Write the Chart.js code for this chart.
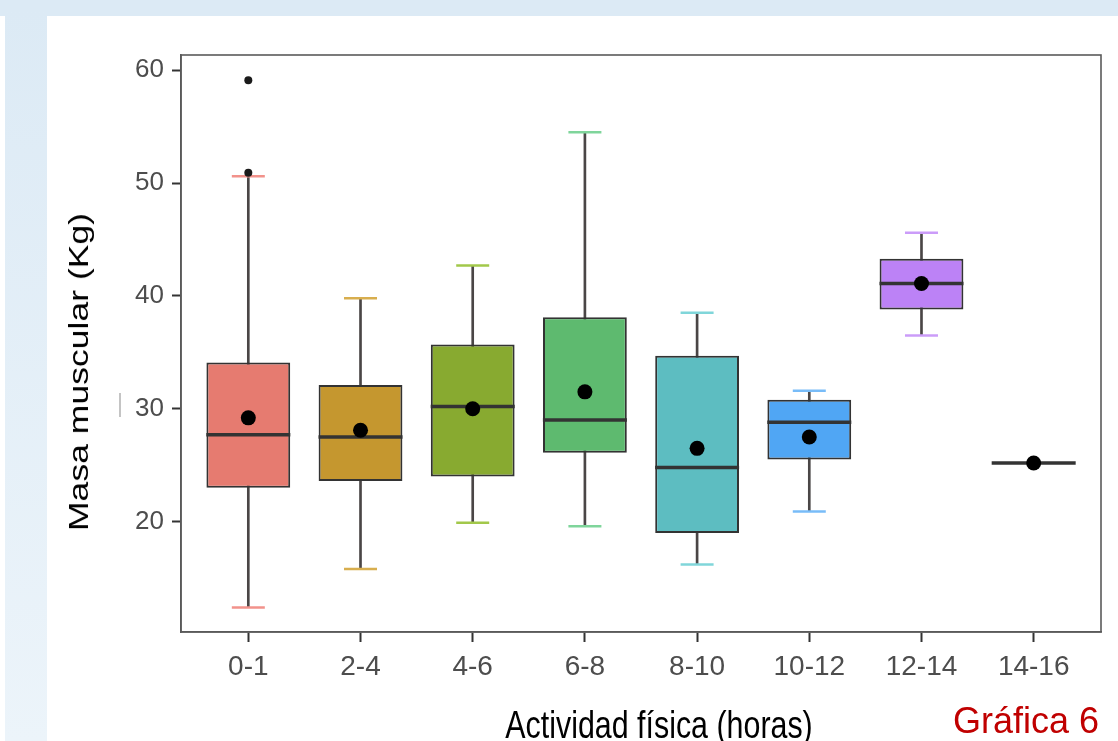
<!DOCTYPE html>
<html><head><meta charset="utf-8">
<script src="https://cdn.jsdelivr.net/npm/chart.js@4.4.1/dist/chart.umd.min.js"></script>
<style>
html,body{margin:0;padding:0;width:1118px;height:741px;overflow:hidden;background:#fff;}
#topband{position:absolute;left:0;top:0;width:1118px;height:16px;background:#DCEAF5;}
#leftedge{position:absolute;left:0;top:0;width:5px;height:9px;background:#DCEAF5;}
#leftband{position:absolute;left:5px;top:9px;width:42px;height:732px;background:linear-gradient(#DCEAF5,#ECF4FA);}
#artifact{position:absolute;left:119px;top:393px;width:2px;height:24px;background:#c4c4c4;}
#wrap{position:absolute;left:0;top:0;width:1118px;height:760px;}
.lbl{position:absolute;white-space:nowrap;transform-origin:50% 50%;}
#ytitle{left:79px;top:372px;font:28px/28px "Liberation Sans",Arial,sans-serif;color:#000;transform:translate(-50%,-50%) rotate(-90deg) scaleX(1.27);}
#xtitle{left:659px;top:725px;font:38px/38px "Liberation Sans",Arial,sans-serif;color:#000;transform:translate(-50%,-50%) scaleX(0.8);}
#gtitle{left:953px;top:703px;font:36px/36px "Liberation Sans",Arial,sans-serif;color:#C00000;}
</style></head>
<body>
<div id="topband"></div><div id="leftedge"></div><div id="leftband"></div>
<div id="artifact"></div>
<div id="wrap"><canvas id="c" width="1118" height="760"></canvas></div>
<div class="lbl" id="ytitle">Masa muscular (Kg)</div>
<div class="lbl" id="xtitle">Actividad física (horas)</div>
<div class="lbl" id="gtitle">Gráfica 6</div>
<script>
const categories = ['0-1','2-4','4-6','6-8','8-10','10-12','12-14','14-16'];
const whiskerLow  = [12.4, 15.8, 19.9, 19.6, 16.2, 20.9, 36.5, null];
const q1          = [23.0, 23.6, 24.0, 26.1, 19.0, 25.5, 38.8, 25.2];
const medians     = [27.7, 27.5, 30.2, 29.0, 24.8, 28.8, 41.1, 25.2];
const q3          = [34.1, 32.1, 35.7, 38.1, 34.7, 30.8, 43.3, 25.2];
const whiskerHigh = [50.6, 39.8, 42.7, 54.5, 38.5, 31.6, 45.6, null];
const means       = [29.2, 28.1, 30.0, 31.5, 26.5, 27.5, 41.1, 25.2];
const outlierCategories = ['0-1','0-1'];
const outlierValues     = [59.1, 50.9];
const yTicks = [20, 30, 40, 50, 60];
const fillColors = ['#E67B70','#C5972F','#88AA30','#5EBA6F','#5DBDC1','#50A6F4','#BC82F6','#F068C4'];
const capColors  = ['#F2928B','#D8AE4E','#A2C84A','#7FD59B','#80D6DA','#78BCF8','#CB9CF9','#F58AD2'];

const idx = (c) => categories.indexOf(c);
const pts = (arr) => arr.map((v,i)=> v==null ? null : {x:i, y:v}).filter(p=>p);
const boxData = categories.map((c,i)=>({x:i, y:[q1[i], q3[i]]}));
const whiskerData = categories.map((c,i)=> whiskerLow[i]==null ? null : {x:i, y:[whiskerLow[i], whiskerHigh[i]]}).filter(p=>p);
const outlierData = outlierCategories.map((c,i)=>({x:idx(c), y:outlierValues[i]}));
const capColorFor = (arr) => arr.map((v,i)=> v==null ? null : capColors[i]).filter(c=>c);
const noPad = () => ({left:0, top:0, right:0, bottom:0});

const framePlugin = {
  id:'frame',
  beforeDatasetsDraw(chart){
    const {ctx, chartArea:a} = chart;
    ctx.save();
    ctx.strokeStyle = '#5a5a5a';
    ctx.lineWidth = 1.6;
    ctx.strokeRect(a.left, a.top, a.right-a.left, a.bottom-a.top);
    ctx.restore();
  }
};

new Chart(document.getElementById('c'), {
  type:'bar',
  data:{
    datasets:[
      {type:'bar', data: whiskerData, backgroundColor:'#4a4646', barThickness:2, grouped:false, order:6},
      {type:'bar', data: boxData, backgroundColor: fillColors, borderColor:'#333', borderWidth:2, borderSkipped:false,
        barPercentage:0.747, categoryPercentage:1, grouped:false, order:5},
      {type:'line', data: pts(whiskerLow), showLine:false, pointStyle:'line', pointRadius:16.5, pointBorderWidth:2.5,
        pointBorderColor: capColorFor(whiskerLow), order:4},
      {type:'line', data: pts(whiskerHigh), showLine:false, pointStyle:'line', pointRadius:16.5, pointBorderWidth:2.5,
        pointBorderColor: capColorFor(whiskerHigh), order:4},
      {type:'line', data: pts(medians), showLine:false, pointStyle:'line', pointRadius:42, pointBorderWidth:3.5,
        pointBorderColor:'#333', order:3},
      {type:'line', data: pts(means), showLine:false, pointStyle:'circle', pointRadius:7.5, pointBorderWidth:0,
        pointBackgroundColor:'#000', order:2},
      {type:'line', data: outlierData, showLine:false, pointStyle:'circle', pointRadius:4, pointBorderWidth:0,
        pointBackgroundColor:'#1a1a1a', order:1}
    ]
  },
  options:{
    responsive:false, animation:false, events:[],
    layout:{autoPadding:false, padding:{left:58, right:17, top:55, bottom:0}},
    plugins:{legend:{display:false}, tooltip:{enabled:false}},
    scales:{
      x:{
        type:'linear', min:-0.6, max:categories.length-0.4, offset:false,
        afterFit(s){ s.height = 128; s.paddingLeft = 0; s.paddingRight = 0; s.getPadding = noPad; },
        afterBuildTicks(s){ s.ticks = categories.map((c,i)=>({value:i})); },
        grid:{offset:false, drawOnChartArea:false, drawTicks:true, tickLength:10, tickColor:'#333', tickWidth:2},
        border:{display:true, color:'#5a5a5a', width:1.6},
        ticks:{color:'#4d4d4d', padding:8, maxRotation:0, autoSkip:false,
          callback:(v)=>categories[v],
          font:{family:'"Liberation Sans",Arial,sans-serif', size:28}}
      },
      y:{
        type:'linear', min:10.23, max:61.34,
        afterFit(s){ s.width = 123; s.getPadding = noPad; },
        afterBuildTicks(s){ s.ticks = yTicks.map(v=>({value:v})); },
        grid:{drawOnChartArea:false, drawTicks:true, tickLength:9, tickColor:'#333', tickWidth:2},
        border:{display:true, color:'#5a5a5a', width:1.6},
        ticks:{color:'#4d4d4d', padding:8, font:{family:'"Liberation Sans",Arial,sans-serif', size:26}}
      }
    }
  },
  plugins:[framePlugin]
});
</script>
</body></html>
